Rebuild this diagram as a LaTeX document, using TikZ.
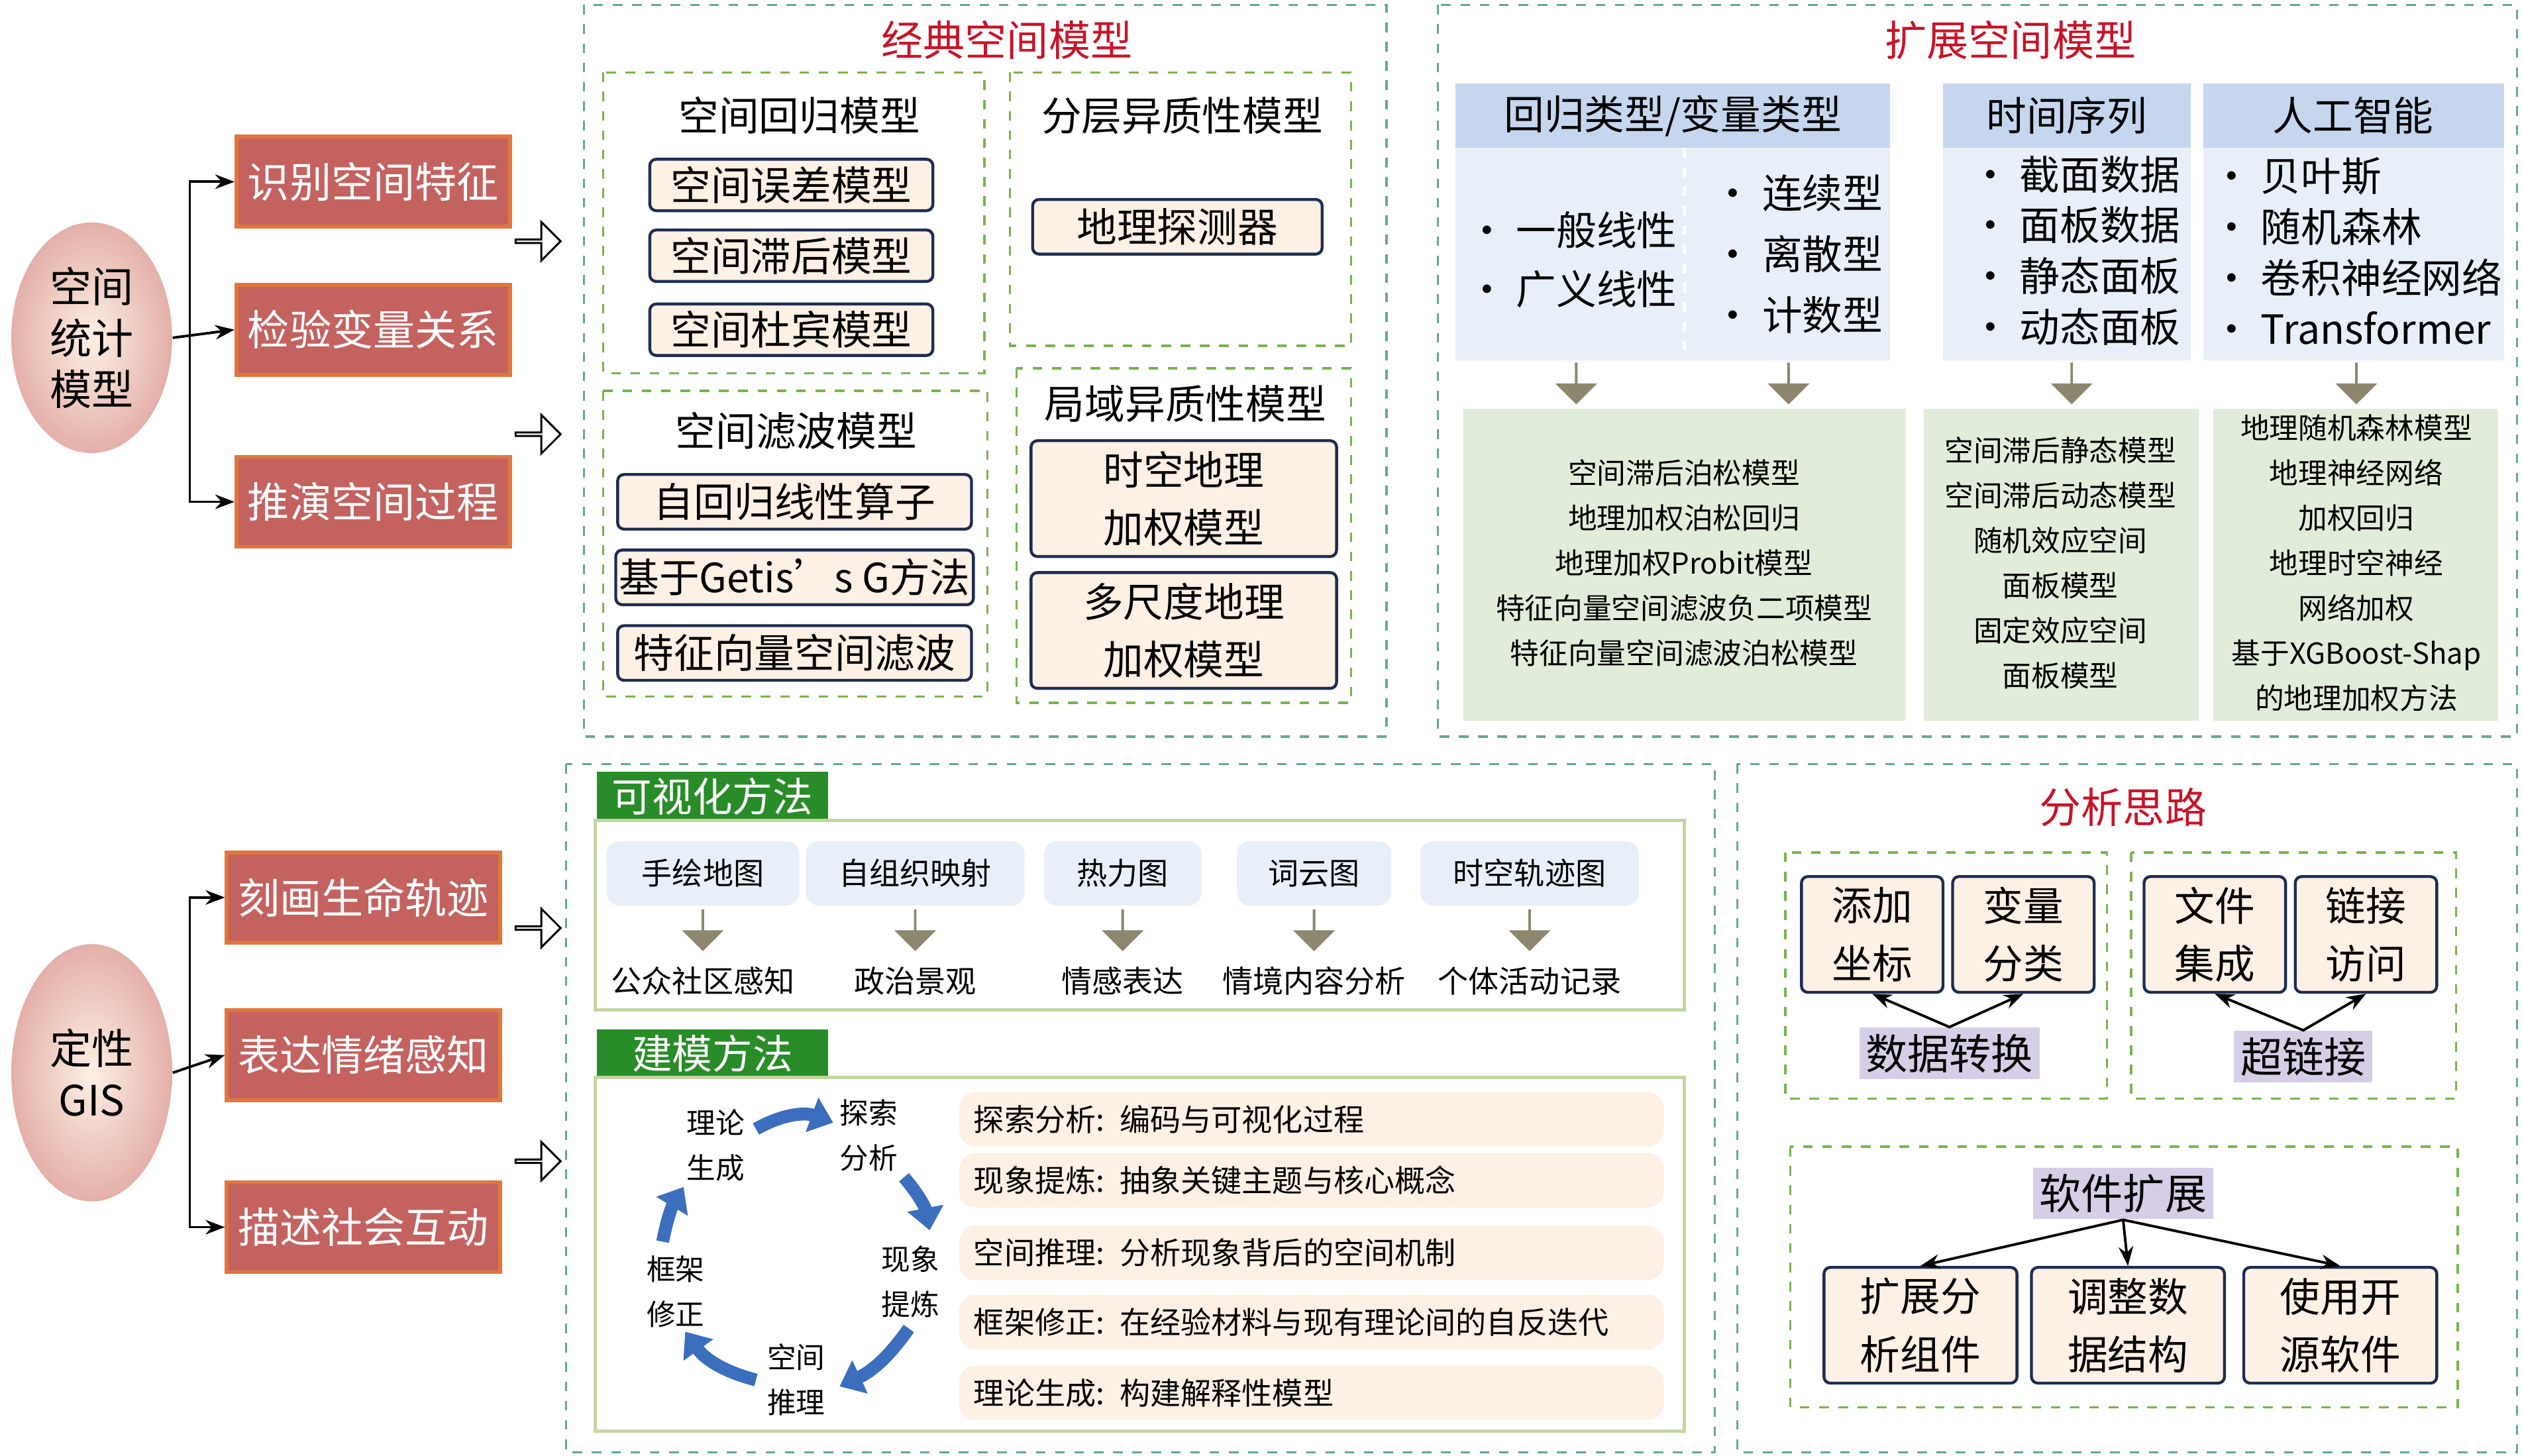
\documentclass[tikz,border=0pt]{standalone}
\usepackage{fontspec}
\setmainfont{Noto Sans CJK SC}
\usetikzlibrary{shapes.arrows,shapes.geometric,arrows.meta,positioning}
\definecolor{redfill}{RGB}{196,98,96}
\definecolor{redline}{RGB}{226,118,58}
\definecolor{navy}{RGB}{30,45,80}
\definecolor{cream}{RGB}{253,240,228}
\definecolor{dgreen}{RGB}{100,170,140}
\definecolor{lgreen}{RGB}{120,180,80}
\definecolor{hblue}{RGB}{197,214,238}
\definecolor{bblue}{RGB}{233,239,248}
\definecolor{sage}{RGB}{226,236,218}
\definecolor{greyarr}{RGB}{140,135,110}
\definecolor{lilac}{RGB}{214,206,230}
\definecolor{tag}{RGB}{40,140,40}
\definecolor{frame}{RGB}{196,214,160}
\definecolor{cycblue}{RGB}{60,110,190}
\definecolor{titred}{RGB}{200,20,40}
\begin{document}
\begin{tikzpicture}[x=0.5pt,y=-0.5pt,
  redbox/.style={draw=redline,line width=1.2pt,fill=redfill,text=white,minimum width=85pt,minimum height=28pt,font=\fontsize{13}{15}\selectfont,inner sep=0pt},
  oval/.style={ellipse,draw=none,inner color=cream,outer color=redfill!45!cream,minimum width=50pt,align=center,font=\fontsize{13}{16}\selectfont},
  navybox/.style={draw=navy,line width=0.9pt,fill=cream,rounded corners=2pt,inner sep=1pt,font=\fontsize{12.5}{18}\selectfont,align=center},
  dbox/.style={draw=dgreen,dashed,line width=0.7pt},
  gbox/.style={draw=lgreen,dashed,line width=0.7pt},
  ttl/.style={text=titred,font=\fontsize{13}{15}\selectfont},
  lbl/.style={font=\fontsize{12.5}{15}\selectfont},
  small/.style={font=\fontsize{9}{14}\selectfont,align=center},
  hollow/.style={single arrow,draw=black,fill=white,line width=0.6pt,minimum height=14pt,minimum width=12pt,single arrow head extend=3pt,inner sep=0pt},
  fatarr/.style={single arrow,fill=greyarr,rotate=-90,minimum height=13pt,minimum width=13pt,single arrow head extend=3pt,inner sep=0pt},
  tagbox/.style={fill=tag,text=white,font=\fontsize{12.5}{15}\selectfont,minimum width=72pt,minimum height=15pt,inner sep=0pt},
  bar/.style={fill=cream,rounded corners=5pt,minimum width=219pt,minimum height=17pt,anchor=west,font=\fontsize{9.5}{12}\selectfont,text width=210pt},
  pbox/.style={fill=lilac,font=\fontsize{13}{15}\selectfont,inner sep=2pt},
  cycarr/.style={cycblue,line width=4pt,-{Triangle[width=11pt,length=7pt]}},
  conn/.style={-{Stealth[length=6pt]},line width=0.8pt}]
\useasboundingbox (0,0) rectangle (1568,905);
% --- left: spatial statistics
\node[oval,minimum height=68pt] (ss) at (57,210) {空间\\统计\\模型};
\node[redbox] (r1) at (232,113) {识别空间特征};
\node[redbox] (r2) at (232,205) {检验变量关系};
\node[redbox] (r3) at (232,312) {推演空间过程};
\draw[conn] (ss.east) -- (r2.west);
\draw[conn] (118,210) |- (r1.west);
\draw[conn] (118,210) |- (r3.west);
\node[hollow] (h1) at (334,150) {};
\node[hollow] (h2) at (334,270) {};
% --- classic models
\draw[dbox] (363,3) rectangle (862,458);
\node[ttl] (cm) at (626,25) {经典空间模型};
\draw[gbox] (375,45) rectangle (612,232);
\node[lbl] (sr) at (497,72) {空间回归模型};
\node[navybox,minimum width=88pt,minimum height=16pt] (m1) at (492,115) {空间误差模型};
\node[navybox,minimum width=88pt,minimum height=16pt] (m2) at (492,159) {空间滞后模型};
\node[navybox,minimum width=88pt,minimum height=16pt] (m3) at (492,205) {空间杜宾模型};
\draw[gbox] (628,45) rectangle (840,215);
\node[lbl] (sh) at (735,72) {分层异质性模型};
\node[navybox,minimum width=90pt,minimum height=17pt] (gd) at (732,141) {地理探测器};
\draw[gbox] (375,243) rectangle (614,433);
\node[lbl] (sf) at (495,268) {空间滤波模型};
\node[navybox,minimum width=110pt,minimum height=17pt] (f1) at (494,312) {自回归线性算子};
\node[navybox,minimum width=110pt,minimum height=17pt] (f2) at (494,359) {基于Getis’s G方法};
\node[navybox,minimum width=110pt,minimum height=17pt] (f3) at (494,406) {特征向量空间滤波};
\draw[gbox] (632,229) rectangle (840,437);
\node[lbl] (lh) at (737,251) {局域异质性模型};
\node[navybox,minimum width=95pt,minimum height=36pt] (g1) at (736,310) {时空地理\\加权模型};
\node[navybox,minimum width=95pt,minimum height=36pt] (g2) at (736,392) {多尺度地理\\加权模型};
% --- extended models
\draw[dbox] (894,3) rectangle (1565,458);
\node[ttl] (em) at (1250,25) {扩展空间模型};
\fill[hblue] (905,52) rectangle (1175,92); \fill[bblue] (905,92) rectangle (1175,224);
\fill[hblue] (1208,52) rectangle (1362,92); \fill[bblue] (1208,92) rectangle (1362,224);
\fill[hblue] (1370,52) rectangle (1557,92); \fill[bblue] (1370,92) rectangle (1557,224);
\draw[white,dashed,line width=1pt] (1047,92) -- (1047,224);
\node[lbl] (ht1) at (1040,72) {回归类型/变量类型};
\node[lbl] (ht2) at (1285,72) {时间序列};
\node[lbl] (ht3) at (1463,72) {人工智能};
\node[lbl,anchor=west] (a1) at (905,143) {• 一般线性};
\node[lbl,anchor=west] (a2) at (905,180) {• 广义线性};
\foreach \t [count=\i] in {连续型,离散型,计数型}
  \node[lbl,anchor=west] (b\i) at (1058,82+38*\i) {• \t};
\foreach \t [count=\i] in {截面数据,面板数据,静态面板,动态面板}
  \node[lbl,anchor=west] (c\i) at (1218,77+31.5*\i) {• \t};
\foreach \t [count=\i] in {贝叶斯,随机森林,卷积神经网络,Transformer}
  \node[lbl,anchor=west] (d\i) at (1368,78+31.5*\i) {• \t};
\foreach \x in {980,1112,1288,1465} \node[fatarr] at (\x,238) {};
\fill[sage] (910,254) rectangle (1185,448);
\fill[sage] (1196,254) rectangle (1367,448);
\fill[sage] (1376,254) rectangle (1553,448);
\node[small] (e1) at (1047,350) {空间滞后泊松模型\\地理加权泊松回归\\地理加权Probit模型\\特征向量空间滤波负二项模型\\特征向量空间滤波泊松模型};
\node[small] (e2) at (1281,350) {空间滞后静态模型\\空间滞后动态模型\\随机效应空间\\面板模型\\固定效应空间\\面板模型};
\node[small] (e3) at (1465,350) {地理随机森林模型\\地理神经网络\\加权回归\\地理时空神经\\网络加权\\基于XGBoost-Shap\\的地理加权方法};
% --- qualitative GIS
\node[oval,minimum height=80pt] (qg) at (57,667) {定性\\GIS};
\node[redbox] (q1) at (226,558) {刻画生命轨迹};
\node[redbox] (q2) at (226,656) {表达情绪感知};
\node[redbox] (q3) at (226,763) {描述社会互动};
\draw[conn] (qg.east) -- (q2.west);
\draw[conn] (118,656) |- (q1.west);
\draw[conn] (118,656) |- (q3.west);
\node[hollow] (h3) at (334,577) {};
\node[hollow] (h4) at (334,722) {};
\draw[dbox] (352,475) rectangle (1066,903);
\node[tagbox] (vt) at (443,495) {可视化方法};
\draw[frame,line width=1pt] (370,510) rectangle (1047,628);
\foreach \x/\w/\t/\u [count=\i] in {437/60/手绘地图/公众社区感知,569/68/自组织映射/政治景观,698/49/热力图/情感表达,817/48/词云图/情境内容分析,951/68/时空轨迹图/个体活动记录}{
  \node[fill=bblue,rounded corners=4pt,minimum width=\w pt,minimum height=20pt,font=\fontsize{9.5}{12}\selectfont] (v\i) at (\x,543) {\t};
  \node[fatarr,minimum height=13pt] at (\x,578) {};
  \node[font=\fontsize{9.5}{12}\selectfont] (w\i) at (\x,610) {\u};}
\node[tagbox] (mt) at (443,655) {建模方法};
\draw[frame,line width=1pt] (370,670) rectangle (1047,890);
\node[small] (k1) at (445,712) {理论\\生成};
\node[small] (k2) at (540,706) {探索\\分析};
\node[small] (k3) at (566,797) {现象\\提炼};
\node[small] (k4) at (495,858) {空间\\推理};
\node[small] (k5) at (420,803) {框架\\修正};
\draw[cycarr] (470,702) to[bend left=25] (518,698);
\draw[cycarr] (562,732) to[bend left=15] (578,765);
\draw[cycarr] (565,826) to[bend left=15] (522,862);
\draw[cycarr] (470,858) to[bend left=20] (426,828);
\draw[cycarr] (412,772) to[bend left=10] (425,738);
\foreach \y/\t [count=\i] in {696/探索分析: 编码与可视化过程,734/现象提炼: 抽象关键主题与核心概念,779/空间推理: 分析现象背后的空间机制,822/框架修正: 在经验材料与现有理论间的自反迭代,866/理论生成: 构建解释性模型}
  \node[bar] (p\i) at (596,\y) {\t};
% --- analysis ideas
\draw[dbox] (1080,475) rectangle (1565,903);
\node[ttl] (ai) at (1320,502) {分析思路};
\draw[gbox] (1110,530) rectangle (1310,683);
\draw[gbox] (1325,530) rectangle (1527,683);
\node[navybox,minimum width=44pt,minimum height=36pt] (s1) at (1164,581) {添加\\坐标};
\node[navybox,minimum width=44pt,minimum height=36pt] (s2) at (1258,581) {变量\\分类};
\node[pbox] (s3) at (1212,655) {数据转换};
\node[navybox,minimum width=44pt,minimum height=36pt] (t1) at (1377,581) {文件\\集成};
\node[navybox,minimum width=44pt,minimum height=36pt] (t2) at (1471,581) {链接\\访问};
\node[pbox] (t3) at (1432,657) {超链接};
\draw[conn,{Stealth[length=6pt]}-{Stealth[length=6pt]}] (s1.south) -- (s3.north) -- (s2.south);
\draw[conn,{Stealth[length=6pt]}-{Stealth[length=6pt]}] (t1.south) -- (t3.north) -- (t2.south);
\draw[gbox] (1113,713) rectangle (1528,875);
\node[pbox] (u0) at (1320,742) {软件扩展};
\node[navybox,minimum width=60pt,minimum height=36pt] (u1) at (1194,824) {扩展分\\析组件};
\node[navybox,minimum width=60pt,minimum height=36pt] (u2) at (1323,824) {调整数\\据结构};
\node[navybox,minimum width=60pt,minimum height=36pt] (u3) at (1455,824) {使用开\\源软件};
\draw[conn] (u0.south) -- (u1.north);
\draw[conn] (u0.south) -- (u2.north);
\draw[conn] (u0.south) -- (u3.north);
\end{tikzpicture}
\end{document}
